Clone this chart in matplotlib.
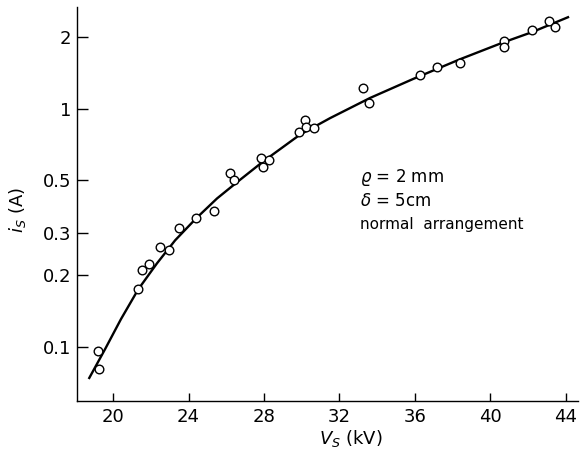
import matplotlib
matplotlib.use("Agg")
import matplotlib.pyplot as plt

# Measured points
vs_kv = [19.22, 19.27, 21.34, 21.55, 21.89, 22.51, 22.98, 23.51, 24.40, 25.34,
         26.20, 26.43, 27.83, 27.96, 28.28, 29.87, 30.17, 30.23, 30.65,
         33.23, 33.58, 36.26, 37.15, 38.38, 40.72, 40.72, 42.21, 43.10, 43.42]
is_a = [0.0965, 0.0809, 0.176, 0.2105, 0.224, 0.263, 0.255, 0.315, 0.347, 0.374,
        0.535, 0.501, 0.619, 0.568, 0.610, 0.796, 0.899, 0.838, 0.830,
        1.221, 1.056, 1.388, 1.489, 1.562, 1.931, 1.813, 2.141, 2.335, 2.197]

# Fitted curve
curve_x = [18.74, 19.58, 20.42, 21.34, 22.33, 23.29, 24.40, 25.51, 26.62, 27.95,
           29.91, 31.50, 33.62, 35.89, 38.38, 40.66, 42.20, 44.11]
curve_y = [0.0742, 0.0981, 0.1310, 0.1749, 0.2246, 0.2804, 0.3465, 0.4201, 0.4951,
           0.6001, 0.7784, 0.9126, 1.109, 1.331, 1.611, 1.894, 2.094, 2.419]

x_ticks = [20, 24, 28, 32, 36, 40, 44]
y_ticks = [0.1, 0.2, 0.3, 0.5, 1, 2]
y_ticklabels = ["0.1", "0.2", "0.3", "0.5", "1", "2"]

fig = plt.figure(figsize=(5.8, 4.55), dpi=100)
ax = fig.add_axes([77 / 580, 54 / 455, 501 / 580, 394 / 455])

ax.plot(curve_x, curve_y, color="black", lw=1.7, zorder=2)
ax.plot(vs_kv, is_a, linestyle="none", marker="o", markersize=6.2,
        markerfacecolor="white", markeredgecolor="black", markeredgewidth=1.0, zorder=3)

ax.set_yscale("log")
ax.set_xlim(18.09, 44.64)
ax.set_ylim(0.0594, 2.67)

ax.set_xticks(x_ticks)
ax.set_xticklabels([str(t) for t in x_ticks])
ax.set_yticks(y_ticks)
ax.set_yticklabels(y_ticklabels)
ax.yaxis.set_minor_locator(matplotlib.ticker.NullLocator())

for s in ["top", "right"]:
    ax.spines[s].set_visible(False)
for s in ["left", "bottom"]:
    ax.spines[s].set_linewidth(1.0)

ax.tick_params(axis="x", direction="in", length=6, width=1, labelsize=13, pad=5)
ax.tick_params(axis="y", direction="in", length=8, width=1, labelsize=13, pad=4)

ax.set_xlabel(r"$V_S$ (kV)", fontsize=13)
ax.xaxis.set_label_coords((351 - 77) / 501, -0.068)
ax.set_ylabel(r"$i_S$ (A)", fontsize=13)
ax.yaxis.set_label_coords(-0.098, (401 - 210) / 394)

fig.text(360 / 580, 1 - 178 / 455, r"$\varrho$ = 2 mm", fontsize=12, va="center", ha="left")
fig.text(360 / 580, 1 - 201 / 455, r"$\delta$ = 5cm", fontsize=12, va="center", ha="left")
fig.text(360 / 580, 1 - 225 / 455, "normal  arrangement", fontsize=11, va="center", ha="left")

fig.savefig("out.png", dpi=100)
